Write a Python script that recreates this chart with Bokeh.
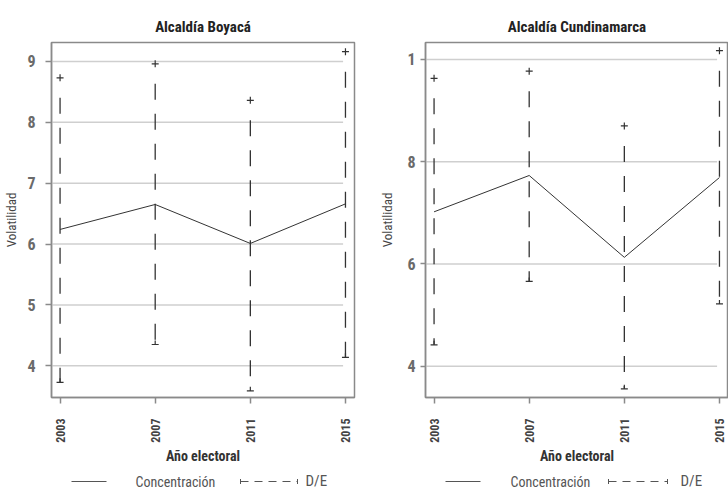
import math
from bokeh.plotting import figure
from bokeh.layouts import row, column
from bokeh.models import FixedTicker, Range1d
from bokeh.core.properties import value
from bokeh.embed import file_html
from bokeh.resources import INLINE

# ---------------- data ----------------
years = [2003, 2007, 2011, 2015]

boy_conc = [6.24, 6.65, 6.01, 6.66]
boy_de_low = [3.73, 4.35, 3.59, 4.14]
boy_de_high = [8.73, 8.96, 8.36, 9.16]
boy_yticks = [4, 5, 6, 7, 8, 9]
boy_ytick_labels = {4: "4", 5: "5", 6: "6", 7: "7", 8: "8", 9: "9"}

cun_conc = [7.02, 7.73, 6.13, 7.69]
cun_de_low = [4.42, 5.66, 3.56, 5.22]
cun_de_high = [9.63, 9.77, 8.70, 10.17]
cun_yticks = [4, 6, 8, 10]
cun_ytick_labels = {4: "4", 6: "6", 8: "8", 10: "1"}

titles = ["Alcaldía Boyacá", "Alcaldía Cundinamarca"]
x_label = "Año electoral"
y_label = "Volatilidad"
legend_labels = ["Concentración", "D/E"]

FONT = "Roboto Condensed"
INK = "#333333"
AXIS = "#8a8a8a"
GRID = "#cfcfcf"
LEG = "#555555"

FRAME_TOP = 42
FRAME_H = 355
MAIN_H = 466
LEG_H = 22


def panel(title, conc, lo, hi, yticks, ylabels, yrange, width, border_left, border_right,
          label_standoff, tick_out, ylabel_standoff):
    x0, x1 = 2002.64, 2015.38
    p = figure(width=width, height=MAIN_H, x_range=Range1d(x0, x1),
               y_range=Range1d(*yrange), output_backend="svg", toolbar_location=None,
               min_border_left=border_left, min_border_right=border_right,
               min_border_top=FRAME_TOP, min_border_bottom=MAIN_H - FRAME_TOP - FRAME_H)
    p.background_fill_color = "white"
    p.border_fill_color = "white"
    p.outline_line_color = AXIS
    p.outline_line_width = 1.5
    p.title.text = title
    p.title.align = "center"
    p.title.offset = -4
    p.title.standoff = 14
    p.title.text_font = FONT
    p.title.text_font_size = "15px"
    p.title.text_font_style = "bold"
    p.title.text_color = "#222222"
    p.xgrid.visible = False
    p.ygrid.visible = False

    px_per_unit = FRAME_H / (yrange[1] - yrange[0])

    # grid lines (they stop just before the last year, as in the original)
    n = len(yticks)
    p.segment(x0=[x0] * n, y0=yticks, x1=[years[-1] - 0.1] * n, y1=yticks,
              line_color=GRID, line_width=1.5)

    # D/E whiskers
    top_gap = 20 / px_per_unit
    stub = 4 / px_per_unit
    p.segment(x0=years, y0=[h - top_gap for h in hi], x1=years, y1=lo,
              line_color=INK, line_width=1.3, line_dash="16 14")
    p.scatter(years, hi, marker="cross", size=7, line_color=INK, line_width=1.2)
    p.scatter(years, lo, marker="dash", size=7, line_color=INK, line_width=1.2)
    p.segment(x0=years, y0=lo, x1=years, y1=[l + stub for l in lo],
              line_color=INK, line_width=1.2)

    # Concentración
    p.line(years, conc, line_color=INK, line_width=1)

    xa = p.xaxis[0]
    xa.ticker = FixedTicker(ticks=years)
    xa.major_label_orientation = math.pi / 2
    xa.axis_label = x_label
    xa.axis_label_text_font = FONT
    xa.axis_label_text_font_size = "14px"
    xa.axis_label_text_font_style = "bold"
    xa.axis_label_text_color = "#333333"
    xa.axis_label_standoff = 2
    xa.major_label_text_font = FONT
    xa.major_label_text_font_size = "12px"
    xa.major_label_text_font_style = "bold"
    xa.major_label_text_color = "#444444"
    xa.major_label_standoff = 15

    ya = p.yaxis[0]
    ya.ticker = FixedTicker(ticks=yticks)
    ya.major_label_overrides = ylabels
    ya.axis_label = y_label
    ya.axis_label_text_font = FONT
    ya.axis_label_text_font_size = "13px"
    ya.axis_label_text_font_style = "normal"
    ya.axis_label_text_color = "#444444"
    ya.axis_label_standoff = ylabel_standoff
    ya.major_label_text_font = FONT
    ya.major_label_text_font_size = "16px"
    ya.major_label_text_font_style = "bold"
    ya.major_label_text_color = "#6a6a6a"
    ya.major_label_standoff = label_standoff
    ya.major_tick_out = tick_out

    for ax in (xa, ya):
        ax.axis_line_color = AXIS
        ax.axis_line_width = 1.5
        ax.major_tick_line_color = AXIS
        ax.major_tick_line_width = 1.5
        ax.major_tick_in = 0
        ax.minor_tick_line_color = None
    xa.major_tick_out = 6
    return p


def legend_fig(width, border_left, border_right, line_x, text_x, de_x, de_text_x):
    # x coordinates of this strip are pixels from the strip's left edge
    lf = figure(width=width, height=LEG_H,
                x_range=Range1d(border_left, width - border_right),
                y_range=Range1d(0, LEG_H), x_axis_type=None, y_axis_type=None,
                output_backend="svg", toolbar_location=None,
                min_border_left=border_left, min_border_right=border_right,
                min_border_top=0, min_border_bottom=0)
    lf.grid.visible = False
    lf.outline_line_color = None
    ly = 7
    lf.line(line_x, [ly, ly], line_color=LEG, line_width=1)
    lf.text([text_x], [7], text=[legend_labels[0]], text_font=value(FONT),
            text_font_size="14px", text_color=LEG, text_baseline="alphabetic")
    lf.segment(x0=[de_x[0]], y0=[ly], x1=[de_x[1]], y1=[ly], line_color=LEG,
               line_width=1, line_dash="8 6")
    lf.segment(x0=de_x, y0=[ly - 2.5] * 2, x1=de_x, y1=[ly + 2.5] * 2,
               line_color=LEG, line_width=1)
    lf.text([de_text_x], [8], text=[legend_labels[1]], text_font=value(FONT),
            text_font_size="15px", text_color=LEG, text_baseline="alphabetic")
    return lf


p1 = panel(titles[0], boy_conc, boy_de_low, boy_de_high, boy_yticks, boy_ytick_labels,
           (3.48, 9.31), 376, 51, 22, 10, 6, 5)
p2 = panel(titles[1], cun_conc, cun_de_low, cun_de_high, cun_yticks, cun_ytick_labels,
           (3.39, 10.33), 352, 49, 0, 5, 5, 9)

l1 = legend_fig(376, 51, 22, [71, 106], 135, [240, 297], 305)
l2 = legend_fig(352, 49, 0, [69, 104], 134, [232, 291], 304)

layout = row(column(p1, l1), column(p2, l2))

open("out.html", "w").write(file_html(layout, INLINE))
